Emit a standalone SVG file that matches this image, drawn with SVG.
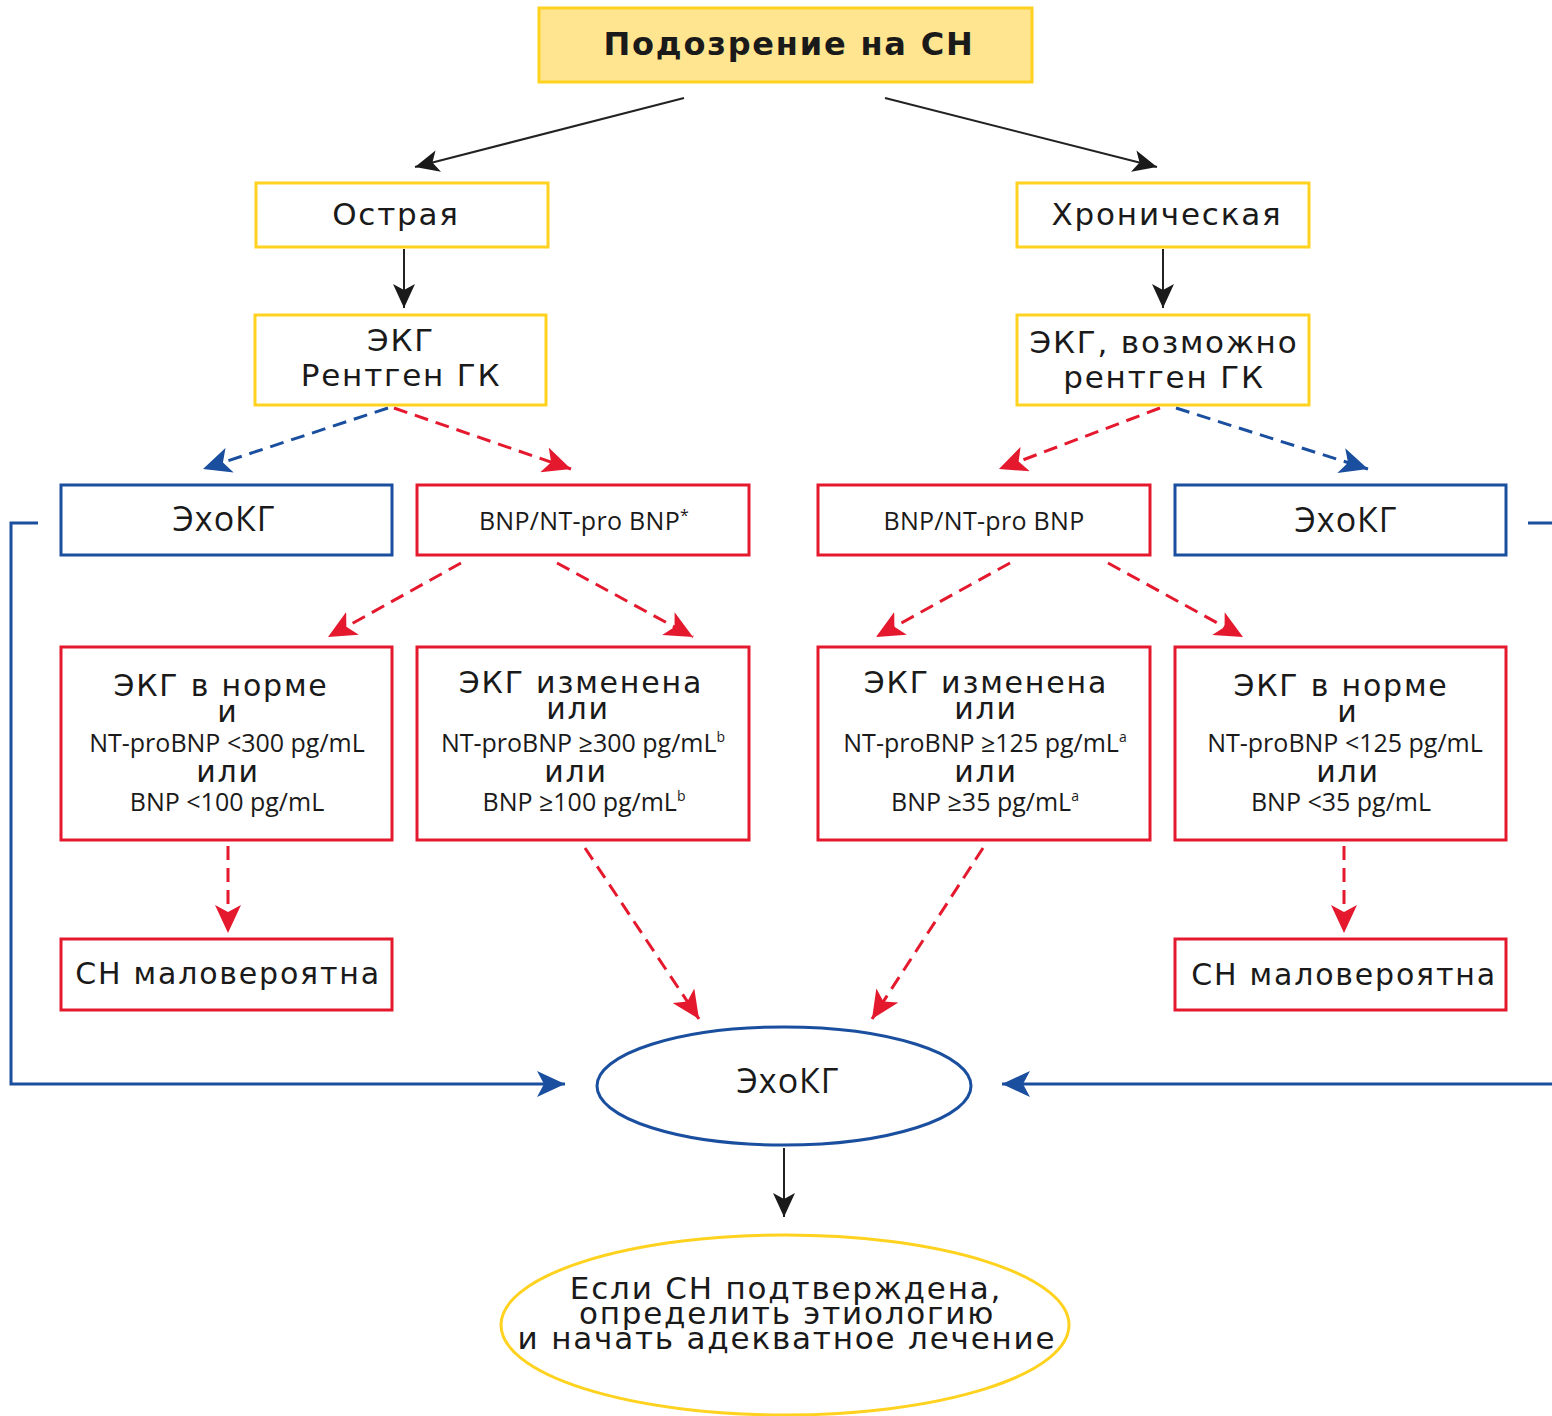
<svg xmlns="http://www.w3.org/2000/svg" width="1552" height="1416" viewBox="0 0 1552 1416">
<defs>
<style>
.bg{fill:#fff}
.ybox{fill:#fff;stroke:#FFD21F;stroke-width:3}
.top{fill:#FFE590;stroke:#FFD21F;stroke-width:3}
.rbox{fill:#fff;stroke:#E5192E;stroke-width:3}
.bbox{fill:#fff;stroke:#1A4E9E;stroke-width:3}
.v{font-family:"DejaVu Sans",Verdana,sans-serif;fill:#1a1a1a;text-anchor:middle;letter-spacing:1.8px}
.g{font-family:"Open Sans","Noto Sans",sans-serif;fill:#1a1a1a;text-anchor:middle}
.blk{stroke:#222;stroke-width:2;fill:none}
.rd{stroke:#E5192E;stroke-width:3;fill:none;stroke-dasharray:14 8}
.bd{stroke:#1A4E9E;stroke-width:3;fill:none;stroke-dasharray:14 8}
.bs{stroke:#1A4E9E;stroke-width:3;fill:none}
</style>
<marker id="ak" markerUnits="userSpaceOnUse" markerWidth="26" markerHeight="22" refX="24" refY="11" orient="auto"><path d="M0,0 L24,11 L0,22 L6,11 z" fill="#1a1a1a"/></marker>
<marker id="ar" markerUnits="userSpaceOnUse" markerWidth="30" markerHeight="26" refX="28" refY="13" orient="auto"><path d="M0,0 L28,13 L0,26 L7,13 z" fill="#E5192E"/></marker>
<marker id="ab" markerUnits="userSpaceOnUse" markerWidth="30" markerHeight="26" refX="28" refY="13" orient="auto"><path d="M0,0 L28,13 L0,26 L7,13 z" fill="#1A4E9E"/></marker>
</defs>
<rect class="bg" x="0" y="0" width="1552" height="1416"/>

<g id="connectors">
<line class="blk" x1="684" y1="98" x2="415" y2="167" marker-end="url(#ak)"/>
<line class="blk" x1="885" y1="98" x2="1157" y2="167" marker-end="url(#ak)"/>
<line class="blk" x1="404" y1="249" x2="404" y2="308" marker-end="url(#ak)"/>
<line class="blk" x1="1163" y1="249" x2="1163" y2="308" marker-end="url(#ak)"/>
<line class="bd" x1="388" y1="408" x2="203" y2="469" marker-end="url(#ab)"/>
<line class="rd" x1="394" y1="408" x2="571" y2="469" marker-end="url(#ar)"/>
<line class="rd" x1="1160" y1="408" x2="999" y2="469" marker-end="url(#ar)"/>
<line class="bd" x1="1176" y1="408" x2="1368" y2="469" marker-end="url(#ab)"/>
<line class="rd" x1="461" y1="563" x2="328" y2="637" marker-end="url(#ar)"/>
<line class="rd" x1="557" y1="563" x2="693" y2="637" marker-end="url(#ar)"/>
<line class="rd" x1="1010" y1="563" x2="876" y2="637" marker-end="url(#ar)"/>
<line class="rd" x1="1108" y1="563" x2="1243" y2="637" marker-end="url(#ar)"/>
<line class="rd" x1="228" y1="846" x2="228" y2="933" marker-end="url(#ar)"/>
<line class="rd" x1="1344" y1="846" x2="1344" y2="933" marker-end="url(#ar)"/>
<line class="rd" x1="585" y1="848" x2="699" y2="1019" marker-end="url(#ar)"/>
<line class="rd" x1="983" y1="848" x2="872" y2="1019" marker-end="url(#ar)"/>
<polyline class="bs" points="38,523 11,523 11,1084 565,1084" marker-end="url(#ab)"/>
<polyline class="bs" points="1528,523 1554,523 1554,1084 1002,1084" marker-end="url(#ab)"/>
<line class="blk" x1="784" y1="1148" x2="784" y2="1217" marker-end="url(#ak)"/>
</g>

<g id="n-top"><rect class="top" x="539" y="8" width="493" height="74"/><text class="v" x="789" y="55" font-size="32" font-weight="bold" letter-spacing="1.6">Подозрение на СН</text></g>
<g id="n-acute"><rect class="ybox" x="256" y="183" width="292" height="64"/><text class="v" x="396" y="225" font-size="31">Острая</text></g>
<g id="n-chronic"><rect class="ybox" x="1017" y="183" width="292" height="64"/><text class="v" x="1167" y="225" font-size="31">Хроническая</text></g>
<g id="n-ecg1"><rect class="ybox" x="255" y="315" width="291" height="90"/><text class="v" x="401" y="351" font-size="31">ЭКГ</text><text class="v" x="401" y="386" font-size="31">Рентген ГК</text></g>
<g id="n-ecg2"><rect class="ybox" x="1017" y="315" width="292" height="90"/><text class="v" x="1164" y="353" font-size="31">ЭКГ, возможно</text><text class="v" x="1164" y="388" font-size="31">рентген ГК</text></g>

<g id="n-echo1"><rect class="bbox" x="61" y="485" width="331" height="70"/><text class="g" x="224" y="531" font-size="34" letter-spacing="1">ЭхоКГ</text></g>
<g id="n-bnp1"><rect class="rbox" x="417" y="485" width="332" height="70"/><text class="g" x="584" y="530" font-size="25" letter-spacing="0.3">BNP/NT-pro BNP<tspan font-size="16" dy="-9">*</tspan></text></g>
<g id="n-bnp2"><rect class="rbox" x="818" y="485" width="332" height="70"/><text class="g" x="984" y="530" font-size="25" letter-spacing="0.3">BNP/NT-pro BNP</text></g>
<g id="n-echo2"><rect class="bbox" x="1175" y="485" width="331" height="70"/><text class="g" x="1346" y="532" font-size="34" letter-spacing="1">ЭхоКГ</text></g>

<g id="n-norm1"><rect class="rbox" x="61" y="647" width="331" height="193"/>
<text class="v" x="221" y="696" font-size="30" letter-spacing="2.3">ЭКГ в норме</text>
<text class="v" x="228" y="722" font-size="30">и</text>
<text class="g" x="227" y="752" font-size="25">NT-proBNP &lt;300 pg/mL</text>
<text class="v" x="228" y="782" font-size="30" letter-spacing="2.3">или</text>
<text class="g" x="227" y="811" font-size="25">BNP &lt;100 pg/mL</text></g>

<g id="n-chg1"><rect class="rbox" x="417" y="647" width="332" height="193"/>
<text class="v" x="581" y="693" font-size="30" letter-spacing="2.3">ЭКГ изменена</text>
<text class="v" x="578" y="719" font-size="30" letter-spacing="2.3">или</text>
<text class="g" x="583" y="752" font-size="25">NT-proBNP ≥300 pg/mL<tspan font-size="14" dy="-10">b</tspan></text>
<text class="v" x="576" y="782" font-size="30" letter-spacing="2.3">или</text>
<text class="g" x="584" y="811" font-size="25">BNP ≥100 pg/mL<tspan font-size="14" dy="-10">b</tspan></text></g>

<g id="n-chg2"><rect class="rbox" x="818" y="647" width="332" height="193"/>
<text class="v" x="986" y="693" font-size="30" letter-spacing="2.3">ЭКГ изменена</text>
<text class="v" x="986" y="719" font-size="30" letter-spacing="2.3">или</text>
<text class="g" x="985" y="752" font-size="25">NT-proBNP ≥125 pg/mL<tspan font-size="14" dy="-10">a</tspan></text>
<text class="v" x="986" y="782" font-size="30" letter-spacing="2.3">или</text>
<text class="g" x="985" y="811" font-size="25">BNP ≥35 pg/mL<tspan font-size="14" dy="-10">a</tspan></text></g>

<g id="n-norm2"><rect class="rbox" x="1175" y="647" width="331" height="193"/>
<text class="v" x="1341" y="696" font-size="30" letter-spacing="2.3">ЭКГ в норме</text>
<text class="v" x="1348" y="722" font-size="30">и</text>
<text class="g" x="1345" y="752" font-size="25">NT-proBNP &lt;125 pg/mL</text>
<text class="v" x="1348" y="782" font-size="30" letter-spacing="2.3">или</text>
<text class="g" x="1341" y="811" font-size="25">BNP &lt;35 pg/mL</text></g>

<g id="n-unl1"><rect class="rbox" x="61" y="939" width="331" height="71"/><text class="v" x="228" y="984" font-size="30" letter-spacing="2.4">СН маловероятна</text></g>
<g id="n-unl2"><rect class="rbox" x="1175" y="939" width="331" height="71"/><text class="v" x="1344" y="985" font-size="30" letter-spacing="2.4">СН маловероятна</text></g>

<g id="n-echo3"><ellipse cx="784" cy="1086" rx="187" ry="59" fill="#fff" stroke="#1A4E9E" stroke-width="3"/><text class="g" x="788" y="1093" font-size="34" letter-spacing="1">ЭхоКГ</text></g>

<g id="n-final"><ellipse cx="785" cy="1325" rx="284" ry="90" fill="#fff" stroke="#FFD21F" stroke-width="3"/>
<text class="v" x="786" y="1299" font-size="31" letter-spacing="2">Если СН подтверждена,</text>
<text class="v" x="787" y="1324" font-size="31" letter-spacing="2">определить этиологию</text>
<text class="v" x="787" y="1349" font-size="31" letter-spacing="2">и начать адекватное лечение</text></g>
</svg>
